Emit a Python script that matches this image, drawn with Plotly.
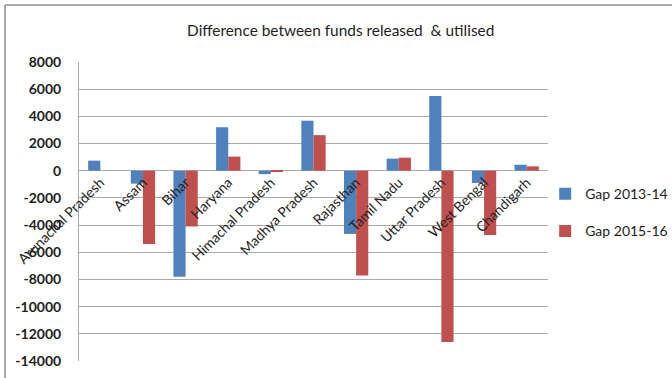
import plotly.graph_objects as go

# Gap between funds released and funds utilised, by state
states = ["Arunachal Pradesh", "Assam", "Bihar", "Haryana", "Himachal Pradesh",
          "Madhya Pradesh", "Rajasthan", "Tamil Nadu", "Uttar Pradesh",
          "West Bengal", "Chandigarh"]
gap_2013_14 = [740, -950, -7800, 3200, -250, 3680, -4650, 890, 5500, -900, 440]
gap_2015_16 = [0, -5400, -4100, 1040, -80, 2620, -7700, 960, -12600, -4720, 320]

y_ticks = list(range(-14000, 8001, 2000))
y_tick_text = [str(v) for v in y_ticks]
y_min, y_max = -14000, 8000

FONT = "Lato"
TXT = "#1e1e1e"
GRID = "#ababab"

fig = go.Figure()
fig.add_trace(go.Bar(x=states, y=gap_2013_14, name="Gap 2013-14",
                     marker=dict(color="#4F81BD", line=dict(width=0)),
                     legendgroup="a"))
fig.add_trace(go.Bar(x=states, y=gap_2015_16, name="Gap 2015-16",
                     marker=dict(color="#C0504D", line=dict(width=0)),
                     legendgroup="b"))

# category axis crosses the value axis at zero
zero_pos = (0 - y_min) / (y_max - y_min)

fig.update_layout(
    width=672, height=378,
    margin=dict(l=79, r=124, t=62, b=17, autoexpand=False),
    paper_bgcolor="white", plot_bgcolor="white",
    barmode="group", bargap=0.43, bargroupgap=0,
    title=dict(text="Difference between funds released  & utilised",
               x=0.507, xanchor="center", y=0.92, yanchor="middle",
               font=dict(family=FONT, size=15.4, color=TXT)),
    font=dict(family=FONT, color=TXT),
    showlegend=True,
    legend=dict(x=0.994, xanchor="left", y=0.496, yanchor="middle",
                font=dict(family=FONT, size=14, color=TXT),
                tracegroupgap=16, traceorder="grouped",
                itemwidth=30, bgcolor="rgba(0,0,0,0)"),
    xaxis=dict(anchor="free", position=zero_pos, showgrid=False,
               showline=False, ticks="", tickangle=-45,
               tickfont=dict(family=FONT, size=14, color=TXT)),
    yaxis=dict(range=[y_min, y_max], tickvals=y_ticks, ticktext=y_tick_text,
               tickfont=dict(family=FONT, size=14, color=TXT, weight="bold"),
               showgrid=True, gridcolor=GRID, gridwidth=1,
               zeroline=True, zerolinecolor=GRID, zerolinewidth=1,
               showline=True, linecolor=GRID, linewidth=1,
               ticks="", ticklabelstandoff=14),
    shapes=[
        # chart frame (top and left edges)
        dict(type="line", xref="paper", yref="paper",
             x0=-74/469, x1=1 + 124/469, y0=1 + 57/299, y1=1 + 57/299,
             line=dict(color="#8c8c8c", width=1.5)),
        dict(type="line", xref="paper", yref="paper",
             x0=-74/469, x1=-74/469, y0=1 + 57/299, y1=-17/299,
             line=dict(color="#8c8c8c", width=1.5)),
    ],
)

fig.write_html("out.html")
